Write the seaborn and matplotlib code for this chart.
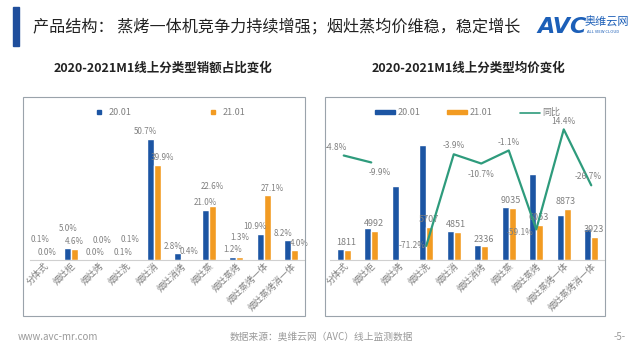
import numpy as np
import pandas as pd
import matplotlib.pyplot as plt
import seaborn as sns
from matplotlib.patches import Rectangle
from matplotlib.lines import Line2D

# data
categories = ['分体式', '烟灶柜', '烟灶烤', '烟灶洗', '烟灶消', '烟灶消烤',
              '烟灶蒸', '烟灶蒸烤', '烟灶蒸烤一体', '烟灶蒸烤消一体']
periods = ['20.01', '21.01']
share_2001 = [0.1, 5.0, 0.0, 0.1, 50.7, 2.8, 21.0, 1.2, 10.9, 8.2]
share_2101 = [0.0, 4.6, 0.0, 0.1, 39.9, 0.4, 22.6, 1.3, 27.1, 4.0]
price_2001 = [1902, 5540, 12800, 19800, 5048, 2616, 9136, 14800, 7756, 5352]
price_2101 = [1811, 4992, np.nan, 5707, 4851, 2336, 9035, 6053, 8873, 3923]
yoy = [-4.8, -9.9, np.nan, -71.2, -3.9, -10.7, -1.1, -59.1, 14.4, -26.7]

main_title = '产品结构： 蒸烤一体机竞争力持续增强；烟灶蒸均价维稳，稳定增长'
left_title = '2020-2021M1线上分类型销额占比变化'
right_title = '2020-2021M1线上分类型均价变化'

BLUE = '#1C55A3'
ORANGE = '#F29B22'
GREEN = '#2E9B7C'
GREY = '#808080'

sns.set_theme(style='white')
plt.rcParams['font.family'] = ['Noto Sans CJK SC', 'DejaVu Sans']

share_df = pd.DataFrame({
    'cat': categories * 2,
    'period': [periods[0]] * 10 + [periods[1]] * 10,
    'value': share_2001 + share_2101,
})
price_df = pd.DataFrame({
    'cat': categories * 2,
    'period': [periods[0]] * 10 + [periods[1]] * 10,
    'value': price_2001 + price_2101,
})

fig = plt.figure(figsize=(6.4, 3.6), dpi=100)
fig.patch.set_facecolor('white')

# header
fig.patches.append(Rectangle((13 / 640, 1 - 46 / 360), 6 / 640, 39 / 360,
                             transform=fig.transFigure, color='#1F4E9C'))
fig.text(33 / 640, 1 - 27 / 360, main_title, fontsize=11.6, color='#222222', va='center')
fig.text(537 / 640, 1 - 27 / 360, 'AVC', fontsize=16, fontweight='bold', style='italic',
         color='#1C5FB8', va='center', family=['DejaVu Sans'])
fig.text(585 / 640, 1 - 22 / 360, '奥维云网', fontsize=8, color='#1C5FB8', va='center')
fig.text(587 / 640, 1 - 32 / 360, 'ALL VIEW CLOUD', fontsize=3, color='#1C5FB8', va='center')

# subtitles
fig.text(163 / 640, 1 - 68 / 360, left_title, fontsize=9, fontweight='bold',
         ha='center', va='center', color='#222222')
fig.text(468 / 640, 1 - 68 / 360, right_title, fontsize=9, fontweight='bold',
         ha='center', va='center', color='#222222')

# panel frames
for x0, x1 in [(23, 305), (325, 605)]:
    fig.patches.append(Rectangle((x0 / 640, 1 - 316 / 360), (x1 - x0) / 640, 219 / 360,
                                 transform=fig.transFigure, fill=False,
                                 edgecolor='#9AA3AB', linewidth=0.8))

# footer
fig.text(18 / 640, 1 - 337 / 360, 'www.avc-mr.com', fontsize=7, color='#9A9A9A', va='center')
fig.text(321 / 640, 1 - 337 / 360, '数据来源：奥维云网（AVC）线上监测数据', fontsize=7,
         color='#9A9A9A', ha='center', va='center')
fig.text(614 / 640, 1 - 337 / 360, '-5-', fontsize=7, color='#9A9A9A', va='center')


def style_axis(ax):
    for s in ['top', 'right', 'left']:
        ax.spines[s].set_visible(False)
    ax.spines['bottom'].set_color('#D0D0D0')
    ax.spines['bottom'].set_linewidth(0.8)
    ax.set_yticks([])
    ax.set_xlabel('')
    ax.set_ylabel('')
    ax.set_facecolor('none')
    ax.tick_params(axis='x', length=0, pad=1)
    plt.setp(ax.get_xticklabels(), rotation=45, ha='right', rotation_mode='anchor',
             fontsize=6.5, color=GREY)


# CHART 1: share bars
ax1 = fig.add_axes([30 / 640, 100 / 360, 275 / 640, 160 / 360])
sns.barplot(data=share_df, x='cat', y='value', hue='period', palette=[BLUE, ORANGE],
            width=0.5, ax=ax1, legend=False, saturation=1)
ax1.set_ylim(0, 67)
ax1.set_xlim(-0.5, 9.5)
style_axis(ax1)

for i, (a, b) in enumerate(zip(share_2001, share_2101)):
    close = abs(a - b) < 1.7
    raise_a = 9 if close and a > b else 0
    raise_b = 9 if close and b >= a else 0
    spread = 0 if close else 3.5
    ax1.annotate(f'{a:.1f}%', (i - 0.125, a), xytext=(-spread, 2 + raise_a),
                 textcoords='offset points', ha='center', va='bottom', fontsize=5.8, color=GREY)
    ax1.annotate(f'{b:.1f}%', (i + 0.125, b), xytext=(spread, 2 + raise_b),
                 textcoords='offset points', ha='center', va='bottom', fontsize=5.8, color=GREY)

h1 = [Line2D([], [], marker='s', ls='none', color=BLUE, markersize=3),
      Line2D([], [], marker='s', ls='none', color=ORANGE, markersize=3)]
ax1.legend(h1, periods, loc='upper center', bbox_to_anchor=(0.5, 1.0), ncol=2, frameon=False,
           fontsize=6.5, handletextpad=0.1, columnspacing=8, labelcolor=GREY)

# CHART 2: price bars + yoy line
ax2 = fig.add_axes([330 / 640, 100 / 360, 275 / 640, 160 / 360])
sns.barplot(data=price_df, x='cat', y='value', hue='period', palette=[BLUE, ORANGE],
            width=0.5, ax=ax2, legend=False, saturation=1)
ax2.set_ylim(0, 27600)
ax2.set_xlim(-0.5, 9.5)
style_axis(ax2)

for i, v in enumerate(price_2101):
    if not np.isnan(v):
        ax2.annotate(f'{v:.0f}', (i + 0.08, v), xytext=(0, 2), textcoords='offset points',
                     ha='center', va='bottom', fontsize=6.5, color=GREY)

ax3 = ax2.twinx()
ax3.plot(np.arange(len(categories)), yoy, color=GREEN, linewidth=1.6)
ax3.set_ylim(-81.6, 36)
ax3.set_xlim(-0.5, 9.5)
ax3.axis('off')

offsets = [(-6, 6), (6, -7), (0, 0), (-10, 0), (0, 6), (0, -8), (0, 6), (-12, -2), (0, 6), (-2, 6)]
for i, v in enumerate(yoy):
    if not np.isnan(v):
        dx, dy = offsets[i]
        ax3.annotate(f'{v:.1f}%', (i, v), xytext=(dx, dy), textcoords='offset points',
                     ha='center', va='center', fontsize=6, color=GREY)

h2 = [Rectangle((0, 0), 1, 1, color=BLUE), Rectangle((0, 0), 1, 1, color=ORANGE),
      Line2D([], [], color=GREEN, linewidth=1.2)]
ax3.legend(h2, periods + ['同比'], loc='upper center', bbox_to_anchor=(0.5, 1.0), ncol=3,
           frameon=False, fontsize=6.5, handlelength=2.2, handleheight=0.3,
           handletextpad=0.3, columnspacing=3, labelcolor=GREY)

plt.savefig('out.png', dpi=100, facecolor='white')
